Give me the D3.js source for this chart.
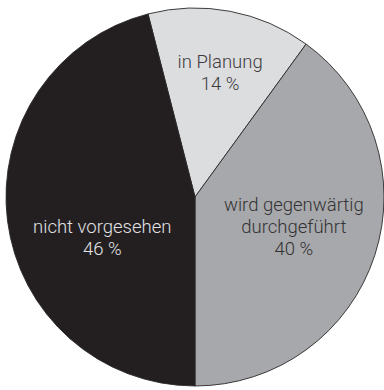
<!DOCTYPE html>
<html>
<head>
<meta charset="utf-8">
<script src="https://cdn.jsdelivr.net/npm/d3@7"></script>
<style>
  html, body { margin: 0; padding: 0; background: #fff; }
  svg { display: block; }
</style>
</head>
<body>
<div id="chart"></div>
<script>
// Umfrage: Stand der Umsetzung
const categories = ["in Planung", "wird gegenwärtig durchgeführt", "nicht vorgesehen"];
const labelLines = [["in Planung"], ["wird gegenwärtig", "durchgeführt"], ["nicht vorgesehen"]];
const values = [14, 40, 46];

const fills = ["#dcdddf", "#a7a8ab", "#231f20"];
const textColors = ["#3c3b3d", "#333234", "#e2e2e4"];
// label anchor: angle (deg, clockwise from top) and distance from centre
const labelPolar = [[11.4, 127], [106.3, 103], [246.7, 101]];

const width = 384, height = 390;
const cx = 195, cy = 197, radius = 189;
const startDeg = -14.4;

const svg = d3.select("#chart").append("svg")
  .attr("width", width).attr("height", height);

const g = svg.append("g").attr("transform", `translate(${cx},${cy})`);

const pie = d3.pie()
  .sort(null)
  .value(d => d)
  .startAngle(startDeg * Math.PI / 180)
  .endAngle((startDeg + 360) * Math.PI / 180);

const arc = d3.arc().innerRadius(0).outerRadius(radius);

const arcs = pie(values);

g.selectAll("path.slice")
  .data(arcs)
  .join("path")
  .attr("class", "slice")
  .attr("d", arc)
  .attr("fill", (d, i) => fills[i])
  .attr("stroke", "#2a2829")
  .attr("stroke-width", 0.9)
  .attr("stroke-linejoin", "round");

const lineH = 22;
const labels = g.selectAll("text.label")
  .data(arcs)
  .join("text")
  .attr("class", "label")
  .attr("text-anchor", "middle")
  .attr("font-family", "Roboto, 'Liberation Sans', Arial, sans-serif")
  .attr("font-weight", 300)
  .attr("font-size", 18.5)
  .attr("fill", (d, i) => textColors[i]);

labels.each(function(d, i) {
  const [a, r] = labelPolar[i];
  const [x, y] = d3.pointRadial(a * Math.PI / 180, r);
  const lines = labelLines[i].concat([`${d.data} %`]);
  const n = lines.length;
  d3.select(this).selectAll("tspan")
    .data(lines)
    .join("tspan")
    .attr("x", x)
    .attr("y", (t, k) => y + (k - (n - 1) / 2) * lineH)
    .attr("dy", "0.36em")
    .text(t => t);
});
</script>
</body>
</html>
